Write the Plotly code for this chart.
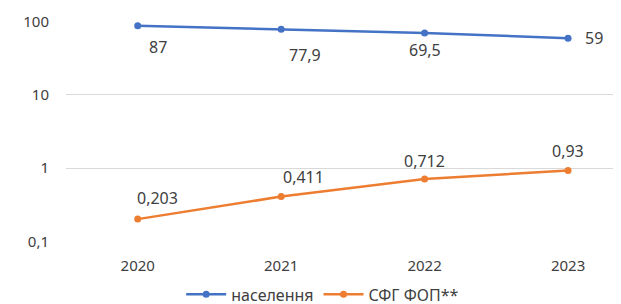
import math
import plotly.graph_objects as go

years = [2020, 2021, 2022, 2023]
year_labels = ["2020", "2021", "2022", "2023"]
naselennia = [87, 77.9, 69.5, 59]
sfg_fop = [0.203, 0.411, 0.712, 0.93]
y_ticks = [0.1, 1, 10, 100]
y_tick_labels = ["0,1", "1", "10", "100"]
names = ["населення", "СФГ ФОП**"]

blue = "#4472C4"
orange = "#ED7D31"
txt = "#404040"

def fmt(v):
    return str(v).replace(".", ",")

fig = go.Figure()
fig.add_trace(go.Scatter(x=years, y=naselennia, mode="lines+markers", name=names[0],
                         line=dict(color=blue, width=2.5), marker=dict(size=7, color=blue)))
fig.add_trace(go.Scatter(x=years, y=sfg_fop, mode="lines+markers", name=names[1],
                         line=dict(color=orange, width=2.5), marker=dict(size=7, color=orange)))

blue_shift = [(20, -21), (24, -26), (0, -17), (26, 0)]
orange_shift = [(20, 21), (22, 20), (0, 18), (0, 20)]
for i, (x, v) in enumerate(zip(years, naselennia)):
    fig.add_annotation(x=x, y=math.log10(v), text=fmt(v), showarrow=False,
                       xshift=blue_shift[i][0], yshift=blue_shift[i][1],
                       font=dict(size=16, color=txt))
for i, (x, v) in enumerate(zip(years, sfg_fop)):
    fig.add_annotation(x=x, y=math.log10(v), text=fmt(v), showarrow=False,
                       xshift=orange_shift[i][0], yshift=orange_shift[i][1],
                       font=dict(size=16, color=txt))

fig.update_layout(
    width=621, height=304,
    margin=dict(l=58, r=5, t=13, b=70, autoexpand=False),
    paper_bgcolor="white", plot_bgcolor="white",
    font=dict(family="Noto Sans", size=15, color=txt),
    showlegend=True,
    legend=dict(orientation="h", x=0.46, xanchor="center", y=-0.16, yanchor="top",
                font=dict(size=16, color=txt), itemwidth=40),
    xaxis=dict(range=[2019.5, 2023.39], tickvals=years, ticktext=year_labels,
               showgrid=False, zeroline=False, showline=False, ticks="",
               ticklabelstandoff=13, tickfont=dict(size=15, color=txt)),
    yaxis=dict(type="log", range=[-1.004, 2.004], tickvals=y_ticks, ticktext=y_tick_labels,
               showgrid=True, gridcolor="#D9D9D9", gridwidth=1, zeroline=False,
               showline=False, ticks="", ticklabelstandoff=16,
               tickfont=dict(size=15, color=txt), ticklabeloverflow="allow"),
)
fig.write_html("out.html")
